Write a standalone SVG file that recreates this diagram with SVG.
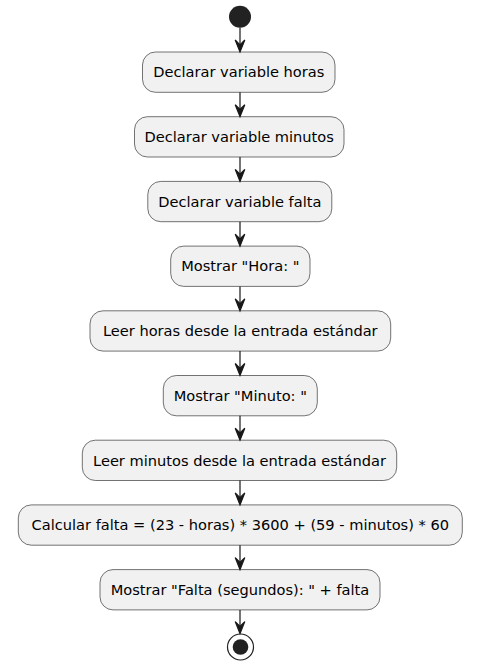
<svg xmlns="http://www.w3.org/2000/svg" width="477" height="670" viewBox="0 0 477 670">
<style>
.box{fill:#F1F1F1;stroke:#181818;stroke-width:0.6}
.lbl{font-family:"DejaVu Sans",sans-serif;font-size:14.6px;fill:#000;text-anchor:middle}
.ln{stroke:#181818;stroke-width:1.2;fill:none}
.ah{fill:#181818;stroke:#181818;stroke-width:1.2}
</style>
<defs>
<polygon id="head" class="ah" points="-4.8,-12 0,0 4.8,-12 0,-7.2"/>
</defs>
<rect width="477" height="670" fill="#FFFFFF"/>
<g id="start"><circle cx="240" cy="16.8" r="11" fill="#222222"/></g>
<g id="n1"><rect class="box" x="142.5" y="52" width="192.5" height="40.3" rx="13"/><text class="lbl" x="238.8" y="77.3">Declarar variable horas</text></g>
<g id="n2"><rect class="box" x="134.5" y="116.7" width="209.5" height="40.3" rx="13"/><text class="lbl" x="239.2" y="142">Declarar variable minutos</text></g>
<g id="n3"><rect class="box" x="147.8" y="181.4" width="184" height="40.3" rx="13"/><text class="lbl" x="239.8" y="206.7">Declarar variable falta</text></g>
<g id="n4"><rect class="box" x="170.7" y="246.1" width="139.3" height="40.3" rx="13"/><text class="lbl" x="240.3" y="271.4">Mostrar "Hora: "</text></g>
<g id="n5"><rect class="box" x="90" y="310.8" width="300.7" height="40.3" rx="13"/><text class="lbl" x="240.3" y="336.1">Leer horas desde la entrada estándar</text></g>
<g id="n6"><rect class="box" x="163.3" y="375.5" width="154" height="40.3" rx="13"/><text class="lbl" x="240.3" y="400.8">Mostrar "Minuto: "</text></g>
<g id="n7"><rect class="box" x="82.3" y="440.2" width="314.4" height="40.3" rx="13"/><text class="lbl" x="239.5" y="465.5">Leer minutos desde la entrada estándar</text></g>
<g id="n8"><rect class="box" x="18.3" y="504.9" width="444" height="40.3" rx="13"/><text class="lbl" x="240.3" y="530.2">Calcular falta = (23 - horas) * 3600 + (59 - minutos) * 60</text></g>
<g id="n9"><rect class="box" x="100" y="569.6" width="280" height="40.3" rx="13"/><text class="lbl" x="240" y="594.9">Mostrar "Falta (segundos): " + falta</text></g>
<g id="end"><circle cx="240.5" cy="647" r="13" fill="#FFFFFF" stroke="#222222" stroke-width="1.2"/><circle cx="240.5" cy="647" r="7.8" fill="#222222"/></g>
<g id="connectors">
<line class="ln" x1="240" y1="27.8" x2="240" y2="51"/><use href="#head" x="240" y="52"/>
<line class="ln" x1="240" y1="92.3" x2="240" y2="115.7"/><use href="#head" x="240" y="116.7"/>
<line class="ln" x1="240" y1="157" x2="240" y2="180.4"/><use href="#head" x="240" y="181.4"/>
<line class="ln" x1="240" y1="221.7" x2="240" y2="245.1"/><use href="#head" x="240" y="246.1"/>
<line class="ln" x1="240" y1="286.4" x2="240" y2="309.8"/><use href="#head" x="240" y="310.8"/>
<line class="ln" x1="240" y1="351.1" x2="240" y2="374.5"/><use href="#head" x="240" y="375.5"/>
<line class="ln" x1="240" y1="415.8" x2="240" y2="439.2"/><use href="#head" x="240" y="440.2"/>
<line class="ln" x1="240" y1="480.5" x2="240" y2="503.9"/><use href="#head" x="240" y="504.9"/>
<line class="ln" x1="240" y1="545.2" x2="240" y2="568.6"/><use href="#head" x="240" y="569.6"/>
<line class="ln" x1="240" y1="609.9" x2="240" y2="632.8"/><use href="#head" x="240" y="633.6"/>
</g>
</svg>
